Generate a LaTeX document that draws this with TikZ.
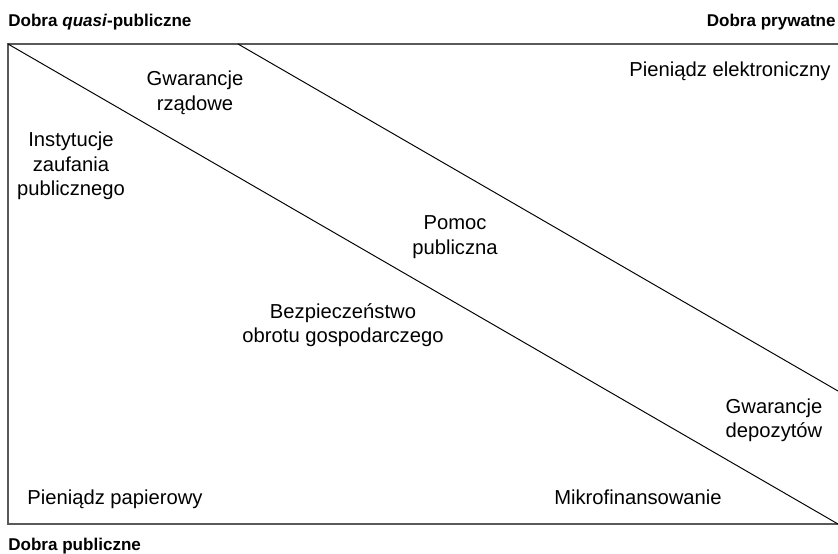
\documentclass[tikz,border=0pt]{standalone}
\usepackage{fontspec}
\setmainfont{Liberation Sans}
\begin{document}
\begin{tikzpicture}[x=0.2mm, y=-0.2mm]
			\tikzstyle{field} = [align=center, font=\fontsize{11.5}{13.9}\selectfont, inner sep=0pt]
			\tikzstyle{axis}  = [font=\fontsize{9.7}{12}\selectfont\bfseries, inner sep=0pt]
			
			\useasboundingbox (0, 0) rectangle (838, 554);

			\coordinate (tl) at (8, 44);
			\coordinate (tr) at (838, 44);
			\coordinate (bl) at (8, 524);
			\coordinate (br) at (838, 524);
			\coordinate (gt) at (238, 44);
			\coordinate (gr) at (838, 391);
			
			\draw[gray!70!black, line width=0.7pt] (tr) -- (tl) -- (bl) -- (br);
			
			\foreach \from/\to in {tl/br, gt/gr}
				\draw[line width=0.55pt] (\from) -- (\to);
			
			\node[axis, anchor=base west] (quasi) at (8, 27) {Dobra \textit{quasi}-publiczne};
			\node[axis, anchor=base east] (pryw) at (836, 27) {Dobra prywatne};
			\node[axis, anchor=base west] (publ) at (8, 551) {Dobra publiczne};
			
			\node[field] (gwrz) at (195, 93) {Gwarancje\\rządowe};
			\node[field, anchor=base] (elek) at (730, 77) {Pieniądz elektroniczny};
			\node[field] (inst) at (71, 166) {Instytucje\\zaufania\\publicznego};
			\node[field] (pomoc) at (455, 237) {Pomoc\\publiczna};
			\node[field] (bezp) at (343, 325) {Bezpieczeństwo\\obrotu gospodarczego};
			\node[field] (depo) at (774, 420) {Gwarancje\\depozytów};
			
			\foreach \name/\x/\text in {pap/115/Pieniądz papierowy, mikro/638/Mikrofinansowanie}
				\node[field, anchor=base] (\name) at (\x, 505) {\text};

		\end{tikzpicture}
\end{document}
